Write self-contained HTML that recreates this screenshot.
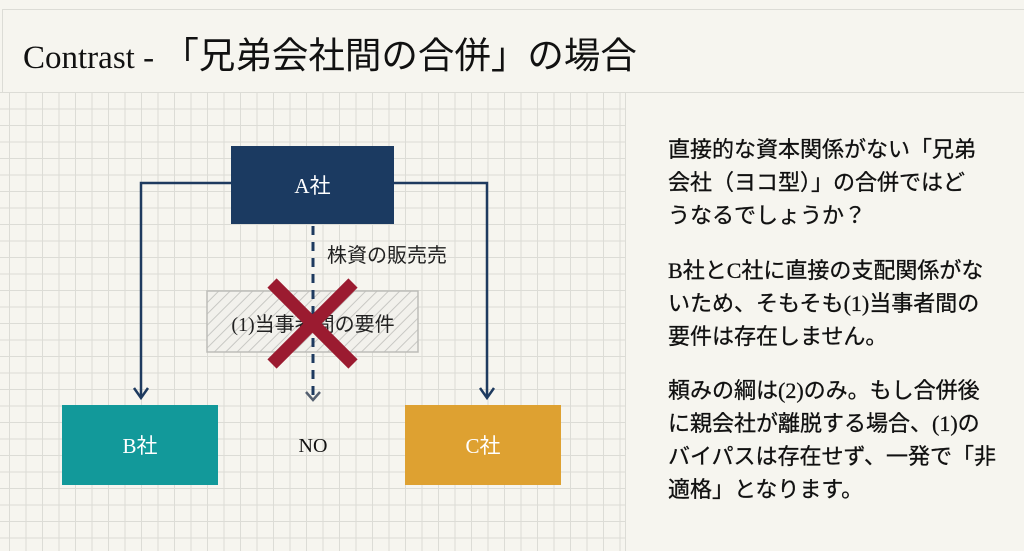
<!DOCTYPE html>
<html><head><meta charset="utf-8"><style>
body{margin:0;width:1024px;height:551px;background:#f6f5ef;position:relative;overflow:hidden;font-family:"Liberation Sans","Noto Sans CJK JP",sans-serif;}
.hdr{position:absolute;left:2px;top:9px;width:1030px;height:82px;border:1px solid #dcdcd6;border-right:none;background:#f6f5ef;}
.title{position:absolute;left:23px;top:26px;font-size:33px;color:#111;font-family:"Liberation Serif","Noto Sans CJK JP",serif;white-space:nowrap;}
.title span{font-family:"Liberation Sans","Noto Sans CJK JP",sans-serif;font-size:36.5px;}
.grid{position:absolute;left:0;top:92px;width:625px;height:459px;
background-image:linear-gradient(to right,#dcdcd6 1px,transparent 1px),linear-gradient(to bottom,#dcdcd6 1px,transparent 1px);
background-size:16.5px 16.5px;background-position:9px 0;border-right:1px solid #dcdcd6;}
.box{position:absolute;color:#fff;font-size:21px;display:flex;align-items:center;justify-content:center;font-family:"Liberation Serif","Noto Sans CJK JP",serif;}
.txt{position:absolute;left:668px;font-size:22px;line-height:33px;color:#111;font-family:"Liberation Sans","Noto Sans CJK JP",sans-serif;-webkit-text-stroke:0.3px #111;}
.txt .s{font-family:"Liberation Serif",serif;}
</style></head><body>
<div class="grid"></div>
<div class="hdr"></div>
<div class="title">Contrast - <span>「兄弟会社間の合併」の場合</span></div>
<svg width="1024" height="551" style="position:absolute;left:0;top:0">
<defs><pattern id="h" width="8" height="8" patternUnits="userSpaceOnUse" patternTransform="rotate(45)"><rect width="8" height="8" fill="#f2f1ec"/><line x1="0" y1="0" x2="0" y2="8" stroke="#c8c8c4" stroke-width="2"/></pattern></defs>
<polyline points="231,183 141,183 141,398" fill="none" stroke="#1e3a5f" stroke-width="2.5"/>
<polyline points="134,388 141,398 148,388" fill="none" stroke="#1e3a5f" stroke-width="2.5"/>
<polyline points="394,183 487,183 487,398" fill="none" stroke="#1e3a5f" stroke-width="2.5"/>
<polyline points="480,388 487,398 494,388" fill="none" stroke="#1e3a5f" stroke-width="2.5"/>
<rect x="207" y="291" width="211" height="61" fill="url(#h)" stroke="#bdbdb9" stroke-width="1.5"/>
<line x1="313" y1="226" x2="313" y2="398" stroke="#1e3a5f" stroke-width="3" stroke-dasharray="9,7"/>
<polyline points="306,392 313,400 320,392" fill="none" stroke="#556070" stroke-width="2.5"/>
<text x="313" y="331" font-size="20" fill="#222" text-anchor="middle" font-family="Liberation Serif, Noto Sans CJK JP, serif">(1)<tspan font-family="Liberation Sans, Noto Sans CJK JP, sans-serif">当事者間の要件</tspan></text>
<text x="327" y="262" font-size="20" fill="#222" font-family="Liberation Sans, Noto Sans CJK JP, sans-serif">株資の販売売</text>
<line x1="272" y1="283" x2="353" y2="364" stroke="#9b1b30" stroke-width="13"/>
<line x1="353" y1="283" x2="272" y2="364" stroke="#9b1b30" stroke-width="13"/>
<text x="313" y="452" font-size="20" fill="#111" text-anchor="middle" font-family="Liberation Serif, serif">NO</text>
</svg>
<div class="box" style="left:231px;top:146px;width:163px;height:78px;background:#1b3a61">A社</div>
<div class="box" style="left:62px;top:405px;width:156px;height:80px;background:#12999a">B社</div>
<div class="box" style="left:405px;top:405px;width:156px;height:80px;background:#dea131">C社</div>
<div class="txt" style="top:133px">直接的な資本関係がない「兄弟<br>会社（ヨコ型）」の合併ではど<br>うなるでしょうか？</div>
<div class="txt" style="top:254px"><span class="s">B</span>社と<span class="s">C</span>社に直接の支配関係がな<br>いため、そもそも<span class="s">(1)</span>当事者間の<br>要件は存在しません。</div>
<div class="txt" style="top:374px">頼みの綱は<span class="s">(2)</span>のみ。もし合併後<br>に親会社が離脱する場合、<span class="s">(1)</span>の<br>バイパスは存在せず、一発で「非<br>適格」となります。</div>
</body></html>
